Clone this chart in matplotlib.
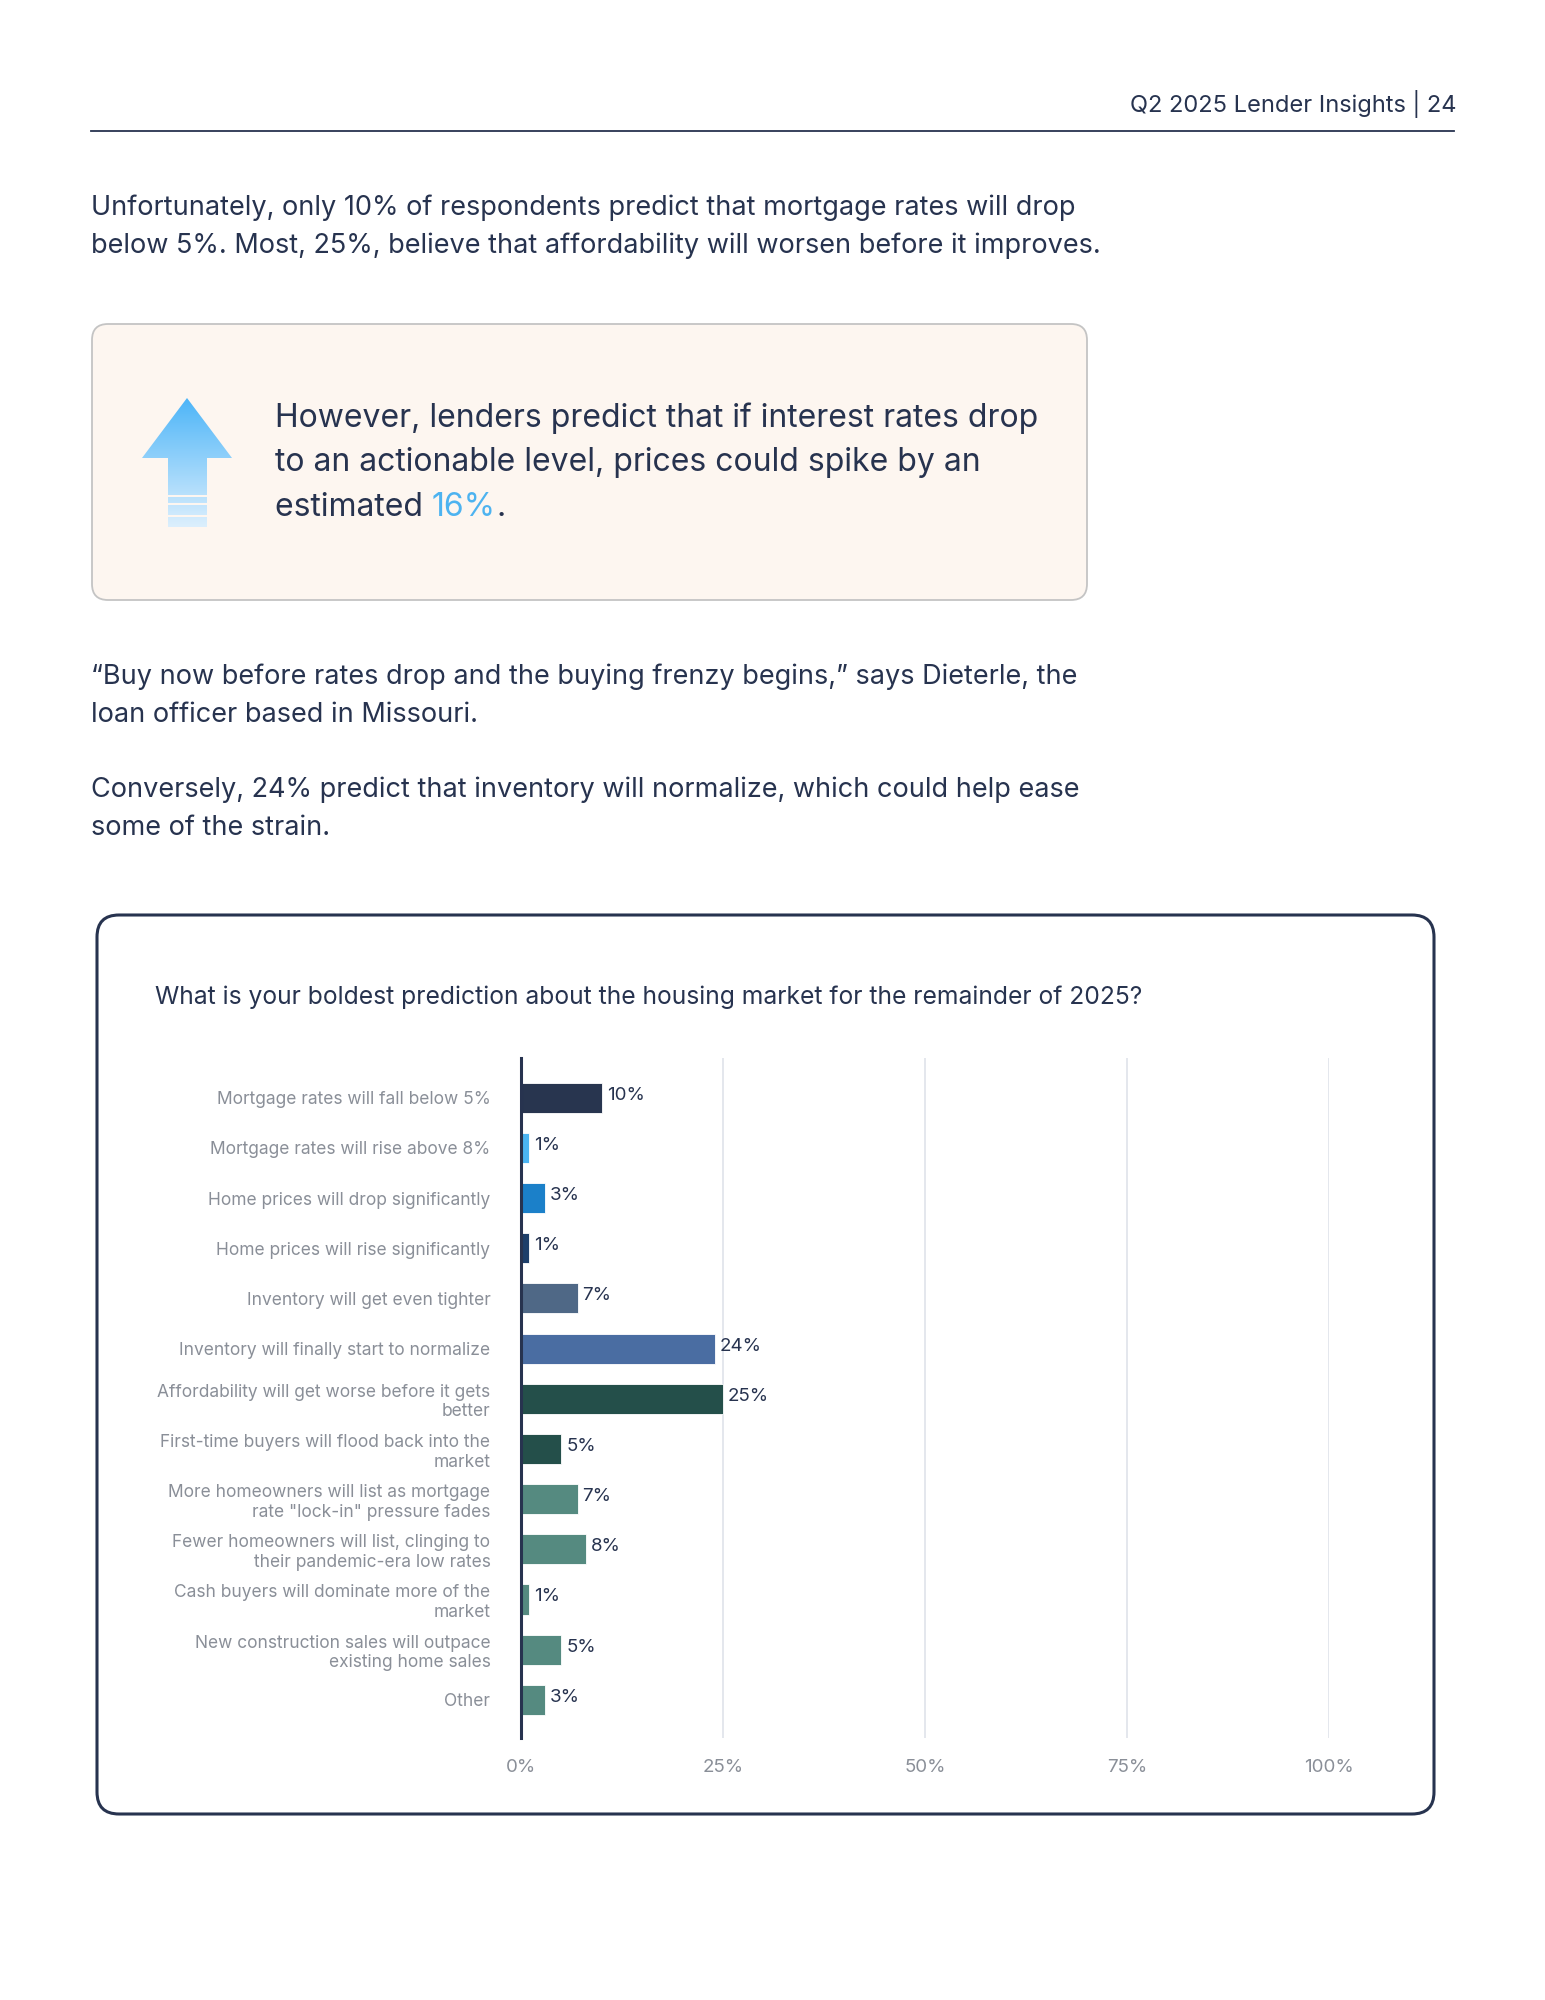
import numpy as np
import matplotlib
matplotlib.use("Agg")
import matplotlib.pyplot as plt
from matplotlib.patches import FancyBboxPatch, Polygon, Rectangle

plt.rcParams['font.family'] = ['Inter', 'DejaVu Sans']

NAVY = '#27334f'
GREY = '#8a8f98'

# chart data
labels = [
    "Mortgage rates will fall below 5%",
    "Mortgage rates will rise above 8%",
    "Home prices will drop significantly",
    "Home prices will rise significantly",
    "Inventory will get even tighter",
    "Inventory will finally start to normalize",
    "Affordability will get worse before it gets\nbetter",
    "First-time buyers will flood back into the\nmarket",
    "More homeowners will list as mortgage\nrate \"lock-in\" pressure fades",
    "Fewer homeowners will list, clinging to\ntheir pandemic-era low rates",
    "Cash buyers will dominate more of the\nmarket",
    "New construction sales will outpace\nexisting home sales",
    "Other",
]
values = [10, 1, 3, 1, 7, 24, 25, 5, 7, 8, 1, 5, 3]
colors = ['#28354f', '#4bb4f2', '#1b80c9', '#1d3f6a', '#4f6886', '#4a6da2',
          '#244f4a', '#244f4a', '#558a80', '#558a80', '#558a80', '#558a80', '#558a80']
xticks = [0, 25, 50, 75, 100]

W, H = 1545, 2000
fig = plt.figure(figsize=(W / 100, H / 100), dpi=100)

# page layer in pixel coordinates
bg = fig.add_axes([0, 0, 1, 1])
bg.set_xlim(0, W)
bg.set_ylim(H, 0)
bg.axis('off')

# header
bg.text(1457, 104, "Q2 2025 Lender Insights | 24", ha='right', va='center',
        fontsize=17, color=NAVY)
bg.plot([91, 1454], [131, 131], color=NAVY, lw=1.3)

# body text
body = dict(fontsize=19.5, color=NAVY, va='center', ha='left')
bg.text(91, 208, "Unfortunately, only 10% of respondents predict that mortgage rates will drop", **body)
bg.text(91, 246, "below 5%. Most, 25%, believe that affordability will worsen before it improves.", **body)
bg.text(91, 677, "\u201cBuy now before rates drop and the buying frenzy begins,\u201d says Dieterle, the", **body)
bg.text(91, 715, "loan officer based in Missouri.", **body)
bg.text(91, 790, "Conversely, 24% predict that inventory will normalize, which could help ease", **body)
bg.text(91, 828, "some of the strain.", **body)

# callout box
bg.add_patch(FancyBboxPatch((92, 324), 995, 276, boxstyle="round,pad=0,rounding_size=16",
                            fc='#fdf6f0', ec='#c4c4c4', lw=1.3))

# gradient arrow
top_c = np.array([0x4d, 0xb5, 0xf8]) / 255
bot_c = np.array([0xdc, 0xef, 0xfd]) / 255
grad = np.linspace(0, 1, 200)[:, None, None] * (bot_c - top_c) + top_c
grad = np.repeat(grad, 2, axis=1)
arrow = Polygon([(187, 398), (232, 458), (207, 458), (207, 527), (168, 527),
                 (168, 458), (142, 458)], closed=True, fc='none', ec='none')
bg.add_patch(arrow)
im = bg.imshow(grad, extent=(142, 232, 527, 398), aspect='auto', zorder=2)
im.set_clip_path(arrow)
bg.set_xlim(0, W)
bg.set_ylim(H, 0)
for y0, y1 in [(495, 497), (503, 505), (515, 517)]:
    bg.add_patch(Rectangle((166, y0), 43, y1 - y0, fc='#fdf6f0', ec='none', zorder=3))

call = dict(fontsize=23, color=NAVY, va='center', ha='left')
bg.text(275, 418, "However, lenders predict that if interest rates drop", **call)
bg.text(275, 463, "to an actionable level, prices could spike by an", **call)
t = bg.text(275, 508, "estimated ", **call)
t2 = bg.annotate("16%", xy=(1, 0), xycoords=t, va='bottom', ha='left',
                 fontsize=23, color='#4db3f0')
bg.annotate(".", xy=(1, 0), xycoords=t2, va='bottom', ha='left', fontsize=23, color=NAVY)

# chart box
bg.add_patch(FancyBboxPatch((97, 915), 1337, 899, boxstyle="round,pad=0,rounding_size=22",
                            fc='white', ec=NAVY, lw=2.2))
bg.text(155, 997, "What is your boldest prediction about the housing market for the remainder of 2025?",
        fontsize=17.75, color=NAVY, va='center', ha='left')

# bar chart
ax = fig.add_axes([521 / W, 1 - 1738 / H, 808 / W, 680 / H])
y = np.arange(len(values))
ax.barh(y, values, height=0.6, color=colors, edgecolor='#ffffff', linewidth=0.6, zorder=3)
for yi, v in zip(y, values):
    ax.text(v + 0.6, yi - 0.05, f"{v}%", va='center', ha='left', fontsize=13.5, color=NAVY)
ax.set_xlim(0, 100)
ax.set_ylim(12.76, -0.79)
ax.set_yticks(y)
ax.set_yticklabels(labels, fontsize=12.5, color=GREY, ha='right', multialignment='right')
ax.set_xticks(xticks)
ax.set_xticklabels([f"{v}%" for v in xticks], fontsize=13.5, color=GREY)
ax.tick_params(axis='y', length=0, pad=22)
ax.tick_params(axis='x', length=0, pad=15)
ax.grid(axis='x', color='#e2e5ec', lw=1.3, zorder=0)
for s in ['top', 'right', 'bottom']:
    ax.spines[s].set_visible(False)
ax.spines['left'].set_color(NAVY)
ax.spines['left'].set_linewidth(2.2)
ax.spines['left'].set_zorder(4)
ax.patch.set_alpha(0)

fig.savefig("out.png", dpi=100, facecolor='white')
